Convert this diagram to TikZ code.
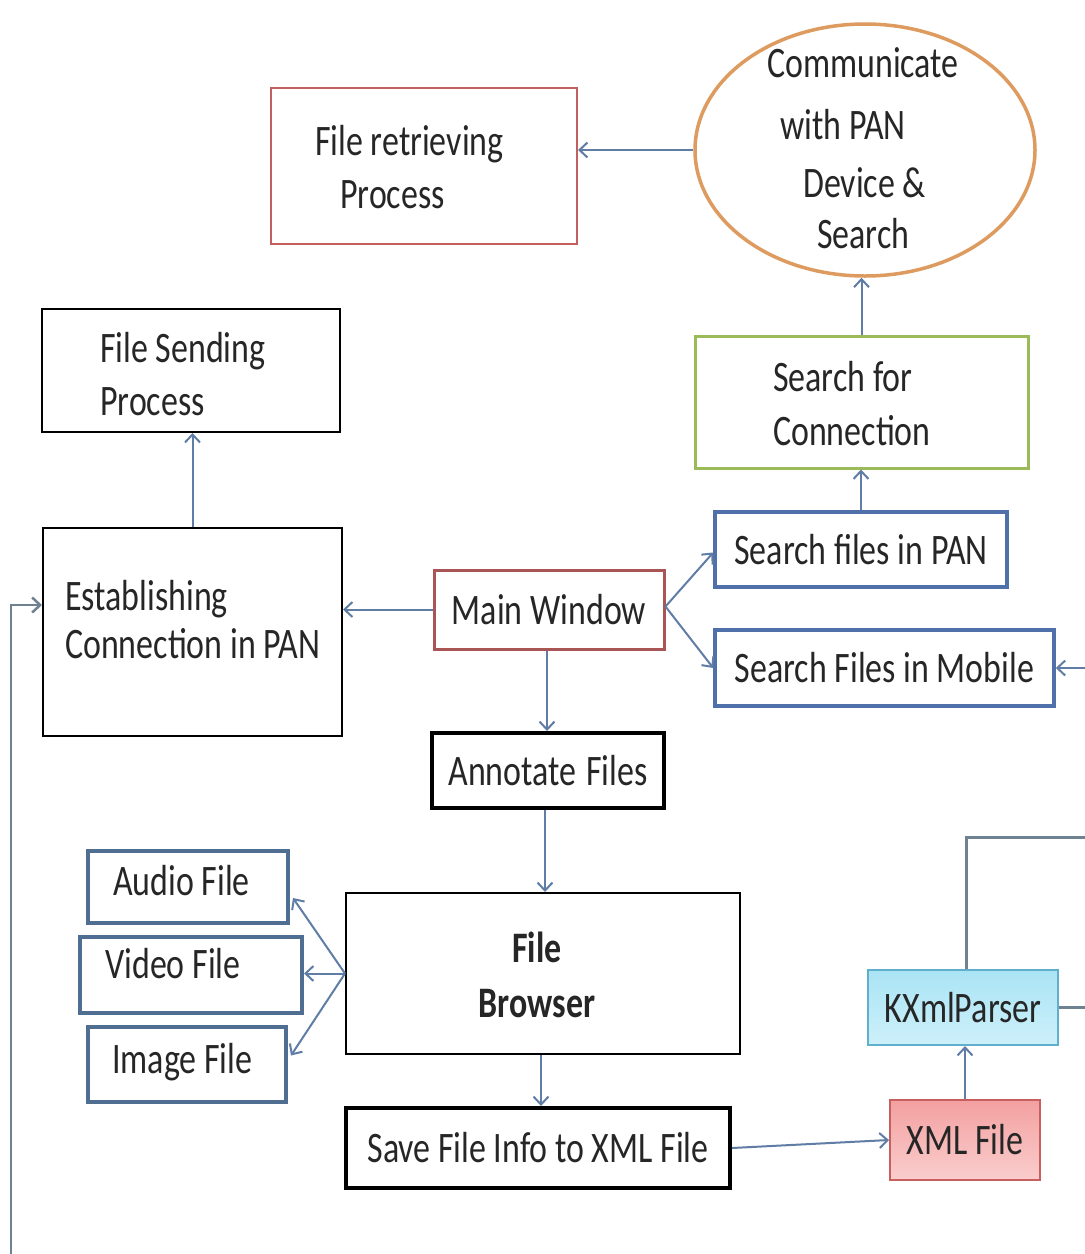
\documentclass[tikz,border=0pt]{standalone}
\usepackage{fontspec}
\newfontfamily\df[FakeStretch=0.78]{Carlito}
\usetikzlibrary{shapes.geometric,arrows.meta,calc}
\definecolor{connc}{RGB}{95,125,165}
\definecolor{framec}{RGB}{110,130,145}
\definecolor{redc}{RGB}{195,95,95}
\definecolor{mwc}{RGB}{170,85,85}
\definecolor{tanc}{RGB}{222,155,95}
\definecolor{greenc}{RGB}{155,187,89}
\definecolor{bluec}{RGB}{79,112,168}
\definecolor{slatec}{RGB}{80,110,145}
\definecolor{xmlb}{RGB}{200,95,95}
\definecolor{xmltop}{RGB}{243,160,160}
\definecolor{xmlbot}{RGB}{250,205,205}
\definecolor{kxb}{RGB}{95,175,205}
\definecolor{kxtop}{RGB}{170,228,245}
\definecolor{kxbot}{RGB}{205,240,250}
\begin{document}
\begin{tikzpicture}[x=1pt,y=-1pt,
  box/.style={draw=black, rectangle, inner sep=0pt},
  txt/.style={inner sep=0pt, font=\df\fontsize{43.5}{50}\selectfont, text=black!85},
  conn/.style={draw=connc, line width=2pt, -{Straight Barb[length=8pt,width=15pt]}},
  frame/.style={draw=framec, line width=3pt}]
\fill[white] (0,0) rectangle (1085,1254);
\useasboundingbox (0,0) rectangle (1085,1254);

% boxes
\node[box, draw=redc, line width=2pt, minimum width=306pt, minimum height=156pt] (fr) at (424,166) {};
\node[ellipse, draw=tanc, line width=3.5pt, minimum width=340pt, minimum height=252pt, inner sep=0pt] (comm) at (865,150) {};
\node[box, line width=2pt, minimum width=298pt, minimum height=123pt] (fs) at (191,370.5) {};
\node[box, draw=greenc, line width=3pt, minimum width=333pt, minimum height=132pt] (sfc) at (861.5,402) {};
\node[box, line width=2pt, minimum width=299pt, minimum height=208pt] (est) at (192.5,632) {};
\node[box, txt, draw=mwc, line width=3pt, minimum width=230pt, minimum height=79pt] (mw) at (549,609.5) {Main Window};
\node[box, txt, draw=bluec, line width=3.5pt, minimum width=292pt, minimum height=75pt] (sfp) at (861,549.5) {Search files in PAN};
\node[box, txt, draw=bluec, line width=3.5pt, minimum width=339pt, minimum height=76pt] (sfm) at (884.5,668) {Search Files in Mobile};
\node[box, txt, line width=4pt, minimum width=232pt, minimum height=75pt] (ann) at (548,770.5) {Annotate\hspace{10pt}Files};
\node[box, line width=2pt, minimum width=394pt, minimum height=161pt] (fb) at (543,973.5) {};
\node[box, draw=slatec, line width=4pt, minimum width=200pt, minimum height=72pt] (aud) at (188,887) {};
\node[box, draw=slatec, line width=4pt, minimum width=222pt, minimum height=76pt] (vid) at (191,975) {};
\node[box, draw=slatec, line width=4pt, minimum width=198pt, minimum height=75pt] (img) at (187,1064.5) {};
\node[box, txt, line width=4pt, minimum width=384pt, minimum height=80pt] (save) at (538,1148) {Save File Info to XML File};
\node[box, txt, draw=xmlb, line width=2pt, top color=xmltop, bottom color=xmlbot, minimum width=150pt, minimum height=80pt] (xml) at (965,1140) {XML File};
\node[box, txt, draw=kxb, line width=2pt, top color=kxtop, bottom color=kxbot, minimum width=190pt, minimum height=75pt] (kx) at (963,1007.5) {KXmlParser};

% multi-line texts
\node[txt, anchor=base west] (frt1) at (315,155) {File retrieving};
\node[txt, anchor=base west] (frt2) at (340,208) {Process};
\node[txt, anchor=base west] (ct1) at (767,77) {Communicate};
\node[txt, anchor=base west] (ct2) at (780,139) {with PAN};
\node[txt, anchor=base west] (ct3) at (803,197) {Device \&};
\node[txt, anchor=base west] (ct4) at (817,248) {Search};
\node[txt, anchor=base west] (fst1) at (100,362) {File Sending};
\node[txt, anchor=base west] (fst2) at (100,415) {Process};
\node[txt, anchor=base west] (sct1) at (773,391) {Search for};
\node[txt, anchor=base west] (sct2) at (773,445) {Connection};
\node[txt, anchor=base west] (et1) at (65,610) {Establishing};
\node[txt, anchor=base west] (et2) at (65,658) {Connection in PAN};
\node[txt, anchor=base, font=\df\bfseries\fontsize{43.5}{50}\selectfont] (fbt1) at (537,962) {File};
\node[txt, anchor=base, font=\df\bfseries\fontsize{43.5}{50}\selectfont] (fbt2) at (537,1017) {Browser};
\node[txt, anchor=base west] (at) at (113,895) {Audio File};
\node[txt, anchor=base west] (vt) at (105,978) {Video File};
\node[txt, anchor=base west] (it) at (112,1073) {Image File};

% free ends
\coordinate (eMob) at (1092,668);
\coordinate (eTop) at (1092,837);
\coordinate (eK) at (1092,1007.5);
\coordinate (eBL) at (11,1262);

% connectors
\draw[conn] (comm.west) -- (comm.west -| fr.east);
\draw[conn] (sfc.north) -- (sfc.north |- comm.south);
\draw[conn] (est.north) -- (est.north |- fs.south);
\draw[conn] (mw.west) -- (mw.west -| est.east);
\draw[conn] (sfp.north) -- (sfp.north |- sfc.south);
\draw[conn] ($(mw.east)+(0,-3)$) -- ($(sfp.west)+(0,3)$);
\draw[conn] ($(mw.east)+(0,-3)$) -- (sfm.west);
\draw[conn] (eMob) -- (sfm.east);
\draw[conn] ([xshift=-2pt]mw.south) -- ([xshift=-2pt]mw.south |- ann.north);
\draw[conn] ([xshift=-3pt]ann.south) -- ([xshift=-3pt]ann.south |- fb.north);
\draw[conn] (fb.west) -- ($(aud.east)+(3,11)$);
\draw[conn] (fb.west) -- (fb.west -| vid.east);
\draw[conn] (fb.west) -- ($(img.east)+(3,-9)$);
\draw[conn] ([xshift=-2pt]fb.south) -- ([xshift=-2pt]fb.south |- save.north);
\draw[conn] (save.east) -- (xml.west);
\draw[conn] (xml.north) -- (xml.north |- kx.south);
\draw[frame] ([xshift=3pt]kx.north) |- (eTop);
\draw[frame] (kx.east) -- (eK);
\draw[conn, draw=framec, line width=2.5pt] (eBL) |- ($(est.west)+(0,-27)$);
\end{tikzpicture}
\end{document}
